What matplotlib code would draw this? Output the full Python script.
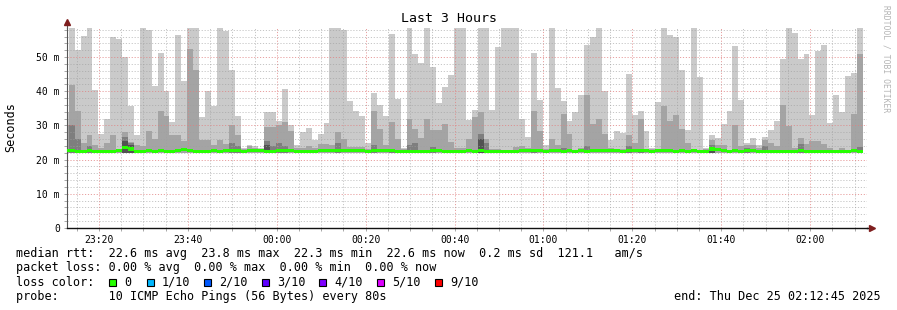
import numpy as np
import pandas as pd
import matplotlib
matplotlib.use('Agg')
import matplotlib.pyplot as plt
import matplotlib.dates as mdates
import matplotlib.ticker as ticker
from matplotlib.patches import Rectangle

plt.rcParams['font.family'] = 'DejaVu Sans Mono'

# ── data (ms) ─────────────────────────────────────────────────────────────
# one entry per 80 s step; first entry is the partial step at the left edge
t_start = pd.Timestamp('2025-12-24 23:12:45')
t_end   = pd.Timestamp('2025-12-25 02:12:45')
first_step_offset_s = -54
step_s = 80

smoke_max = [34.0,
    58.5, 52.1, 56.2, 58.5, 40.4, 27.6, 31.9, 55.9, 55.4, 49.9,
    35.7, 27.1, 58.5, 57.9, 41.6, 51.3, 40.2, 31.0, 56.5, 43.1,
    58.5, 58.5, 32.4, 40.2, 35.6, 58.5, 57.7, 46.3, 32.7, 23.5,
    24.4, 23.9, 23.4, 33.9, 33.9, 31.4, 40.7, 30.2, 24.4, 28.0,
    29.3, 25.6, 27.6, 30.8, 58.5, 58.5, 58.0, 37.2, 34.3, 32.7,
    25.0, 39.6, 36.1, 32.7, 56.8, 37.6, 23.4, 58.5, 51.0, 48.4,
    58.5, 47.0, 36.6, 41.3, 44.8, 58.5, 58.5, 31.5, 34.6, 58.5,
    58.5, 34.6, 52.8, 58.5, 58.5, 58.5, 31.8, 26.6, 51.3, 37.5,
    24.2, 58.5, 40.9, 37.2, 31.4, 33.8, 38.8, 53.6, 55.9, 58.5,
    40.0, 25.8, 28.5, 27.8, 45.1, 33.1, 34.3, 28.5, 23.3, 37.0,
    58.5, 56.5, 55.8, 46.3, 28.8, 58.5, 44.1, 23.4, 27.1, 26.3,
    30.4, 34.1, 53.1, 37.5, 24.9, 26.3, 24.4, 26.6, 28.8, 31.4,
    49.5, 58.5, 57.1, 49.5, 51.0, 33.1, 51.9, 53.6, 30.8, 39.0,
    33.8, 44.5, 45.4, 58.5]

smoke_q2 = [30.0,
    41.9, 34.3, 24.9, 27.1, 24.2, 23.3, 25.0, 27.3, 23.2, 28.0,
    25.3, 24.2, 24.1, 28.5, 26.1, 34.3, 32.9, 27.1, 27.1, 25.5,
    52.4, 46.3, 25.6, 25.6, 24.2, 25.8, 24.6, 30.0, 27.1, 23.2,
    23.9, 23.3, 23.0, 29.4, 29.4, 30.2, 31.0, 28.5, 23.3, 23.5,
    24.0, 23.5, 24.6, 24.6, 24.4, 28.0, 26.1, 23.6, 23.8, 23.8,
    23.2, 34.3, 29.0, 24.4, 30.9, 26.1, 23.0, 32.0, 29.0, 26.3,
    32.0, 28.8, 28.8, 30.5, 25.1, 23.4, 23.4, 26.0, 32.4, 33.9,
    26.1, 23.2, 23.2, 22.9, 22.9, 23.6, 23.9, 23.4, 34.3, 28.5,
    23.0, 26.1, 24.4, 33.4, 27.6, 22.9, 23.4, 38.8, 30.5, 32.0,
    27.5, 23.4, 23.2, 23.2, 27.1, 24.9, 32.0, 22.9, 23.0, 23.0,
    35.6, 31.4, 33.1, 29.0, 24.9, 23.2, 22.9, 23.0, 25.8, 24.2,
    24.2, 22.9, 30.0, 24.0, 24.2, 24.2, 23.4, 25.6, 24.9, 23.9,
    36.1, 29.7, 23.5, 26.3, 24.7, 25.5, 25.5, 24.7, 23.4, 22.9,
    23.5, 22.9, 33.4, 51.0]

# inner (darker) smoke layers, only where visible: {step index: ms}
smoke_q3 = {1: 30.0, 2: 26.1, 4: 24.1, 10: 26.6, 11: 24.8, 28: 25.0, 29: 24.0,
            34: 25.5, 35: 24.0, 36: 25.0, 37: 24.0, 46: 25.0, 52: 24.2, 55: 23.2,
            58: 24.2, 59: 25.0, 62: 23.8, 70: 27.6, 71: 25.0, 79: 23.2, 84: 23.4,
            88: 23.9, 95: 23.9, 97: 23.2, 109: 24.2, 115: 23.4, 118: 24.0,
            124: 24.7, 134: 23.6}
smoke_q4 = {10: 25.5, 11: 24.2, 34: 24.2, 70: 26.1, 109: 23.6}

median = [22.6,
    22.6, 22.5, 22.3, 22.6, 22.5, 22.5, 22.4, 22.4, 22.6, 23.5,
    23.1, 22.5, 22.5, 22.6, 22.5, 22.6, 22.5, 22.5, 22.6, 23.0,
    22.6, 22.5, 22.5, 22.5, 22.8, 22.3, 22.7, 22.6, 22.6, 22.3,
    22.6, 22.6, 22.6, 22.5, 22.5, 22.8, 22.6, 22.6, 22.3, 22.4,
    22.4, 22.4, 22.6, 22.6, 22.6, 22.6, 22.6, 22.6, 22.6, 22.6,
    22.5, 22.7, 22.6, 22.7, 22.7, 22.3, 22.5, 22.5, 22.4, 22.4,
    22.5, 22.6, 22.6, 22.5, 22.5, 22.5, 22.5, 22.6, 22.5, 22.6,
    22.5, 22.4, 22.5, 22.5, 22.4, 22.5, 22.6, 22.6, 22.7, 22.6,
    22.4, 22.6, 22.7, 22.5, 22.6, 22.4, 22.6, 22.5, 22.6, 22.6,
    22.6, 22.6, 22.6, 22.5, 22.6, 22.6, 22.6, 22.6, 22.5, 22.6,
    22.6, 22.6, 22.5, 22.6, 22.5, 22.6, 22.5, 22.5, 23.1, 22.9,
    22.8, 22.5, 22.6, 22.5, 22.6, 22.6, 22.5, 22.5, 22.5, 22.4,
    22.5, 22.5, 22.5, 22.6, 22.5, 22.5, 22.5, 22.5, 22.3, 22.3,
    22.4, 22.5, 22.6, 22.5]

SMOKE_FLOOR = 22.0
Y_TOP = 58.5

loss_labels = ['0', '1/10', '2/10', '3/10', '4/10', '5/10', '9/10']
loss_colors = ['#26ff00', '#00b8ff', '#0059ff', '#5e00ff', '#7e00ff', '#dd00ff', '#ff0000']
smoke_colors = ['#cacaca', '#a4a4a4', '#7e7e7e', '#525252']

# ── build step edges ──────────────────────────────────────────────────────
n = len(smoke_max)
edges_t = t_start + pd.to_timedelta(first_step_offset_s + step_s*np.arange(n+1), unit='s')
edges = mdates.date2num(edges_t.to_pydatetime())

smax = np.array(smoke_max)
sq2 = np.array(smoke_q2)
sq3 = np.full(n, SMOKE_FLOOR)
for k, v in smoke_q3.items():
    sq3[k] = v
sq4 = np.full(n, SMOKE_FLOOR)
for k, v in smoke_q4.items():
    sq4[k] = v
med = np.array(median)
floor = np.full(n, SMOKE_FLOOR)

W, H = 897, 310
fig = plt.figure(figsize=(W/100, H/100), dpi=100)
fig.patch.set_facecolor('white')
ax = fig.add_axes([66.8/W, 1-228/H, 800/W, 200/H])

for top, col in zip([smax, sq2, sq3, sq4], smoke_colors):
    ax.stairs(top, edges, baseline=floor, fill=True, color=col, lw=0, zorder=1)
ax.stairs(med + 0.45, edges, baseline=med - 0.45, fill=True,
          color=loss_colors[0], lw=0, zorder=3)

ax.set_xlim(mdates.date2num(t_start.to_pydatetime()), mdates.date2num(t_end.to_pydatetime()))
ax.set_ylim(0, Y_TOP)

ax.xaxis.set_major_locator(mdates.MinuteLocator(byminute=[0, 20, 40]))
ax.xaxis.set_minor_locator(mdates.MinuteLocator(byminute=range(0, 60, 5)))
ax.xaxis.set_major_formatter(mdates.DateFormatter('%H:%M'))
ax.yaxis.set_major_locator(ticker.MultipleLocator(10))
ax.yaxis.set_minor_locator(ticker.MultipleLocator(2))
ax.yaxis.set_major_formatter(ticker.FuncFormatter(
    lambda v, p: '0' if v == 0 else f'{v:.0f} m'))

ax.grid(which='major', color='#e08080', alpha=0.75, lw=0.7, linestyle=(0, (1.2, 1.8)))
ax.grid(which='minor', color='#a0a0a0', alpha=0.6, lw=0.7, linestyle=(0, (1.2, 1.8)))
ax.tick_params(which='both', length=2, width=0.6, color='#999999',
               labelsize=7, pad=3)

for s in ['top', 'right']:
    ax.spines[s].set_visible(False)
ax.spines['left'].set_color('#555555')
ax.spines['left'].set_linewidth(0.8)
ax.spines['bottom'].set_color('#111111')
ax.spines['bottom'].set_linewidth(1.0)

# axis arrows
ax.plot([0, 0], [1, 1.025], transform=ax.transAxes, color='#555555', lw=0.8, clip_on=False)
ax.plot([0], [1.03], transform=ax.transAxes, marker='^', ms=4, color='#7f1f1f',
        clip_on=False, lw=0)
ax.plot([1, 1.004], [0, 0], transform=ax.transAxes, color='#111111', lw=1.0, clip_on=False)
ax.plot([1.006], [0], transform=ax.transAxes, marker='>', ms=4, color='#7f1f1f',
        clip_on=False, lw=0)

fig.text(0.5, 1-19/H, 'Last 3 Hours', ha='center', va='center', fontsize=9.5)
fig.text(11/W, 1-127/H, 'Seconds', ha='center', va='center', rotation=90, fontsize=8.5)
fig.text(886/W, 1-5/H, 'RRDTOOL / TOBI OETIKER', ha='center', va='top',
         rotation=270, fontsize=5.8, color='#b4b4b4')

# ── legend block ──────────────────────────────────────────────────────────
FS = 8.5
fig.text(16/W, 1-254/H,
         'median rtt:  22.6 ms avg  23.8 ms max  22.3 ms min  22.6 ms now  0.2 ms sd  121.1   am/s',
         ha='left', va='center', fontsize=FS)
fig.text(16/W, 1-268/H,
         'packet loss: 0.00 % avg  0.00 % max  0.00 % min  0.00 % now',
         ha='left', va='center', fontsize=FS)
fig.text(16/W, 1-282.3/H, 'loss color:', ha='left', va='center', fontsize=FS)
box_x = [109, 146.7, 204, 261.7, 319, 376.7, 435]
for bx, lab, col in zip(box_x, loss_labels, loss_colors):
    fig.patches.append(Rectangle((bx/W, 1-286/H), 7/W, 7/H, transform=fig.transFigure,
                                 facecolor=col, edgecolor='black', lw=0.8))
    fig.text((bx+15)/W, 1-282.3/H, lab, ha='left', va='center', fontsize=FS)
fig.text(16/W, 1-296.7/H,
         'probe:       10 ICMP Echo Pings (56 Bytes) every 80s',
         ha='left', va='center', fontsize=FS)
fig.text(881/W, 1-296.7/H, 'end: Thu Dec 25 02:12:45 2025',
         ha='right', va='center', fontsize=FS)

fig.savefig('out.png', dpi=100)
